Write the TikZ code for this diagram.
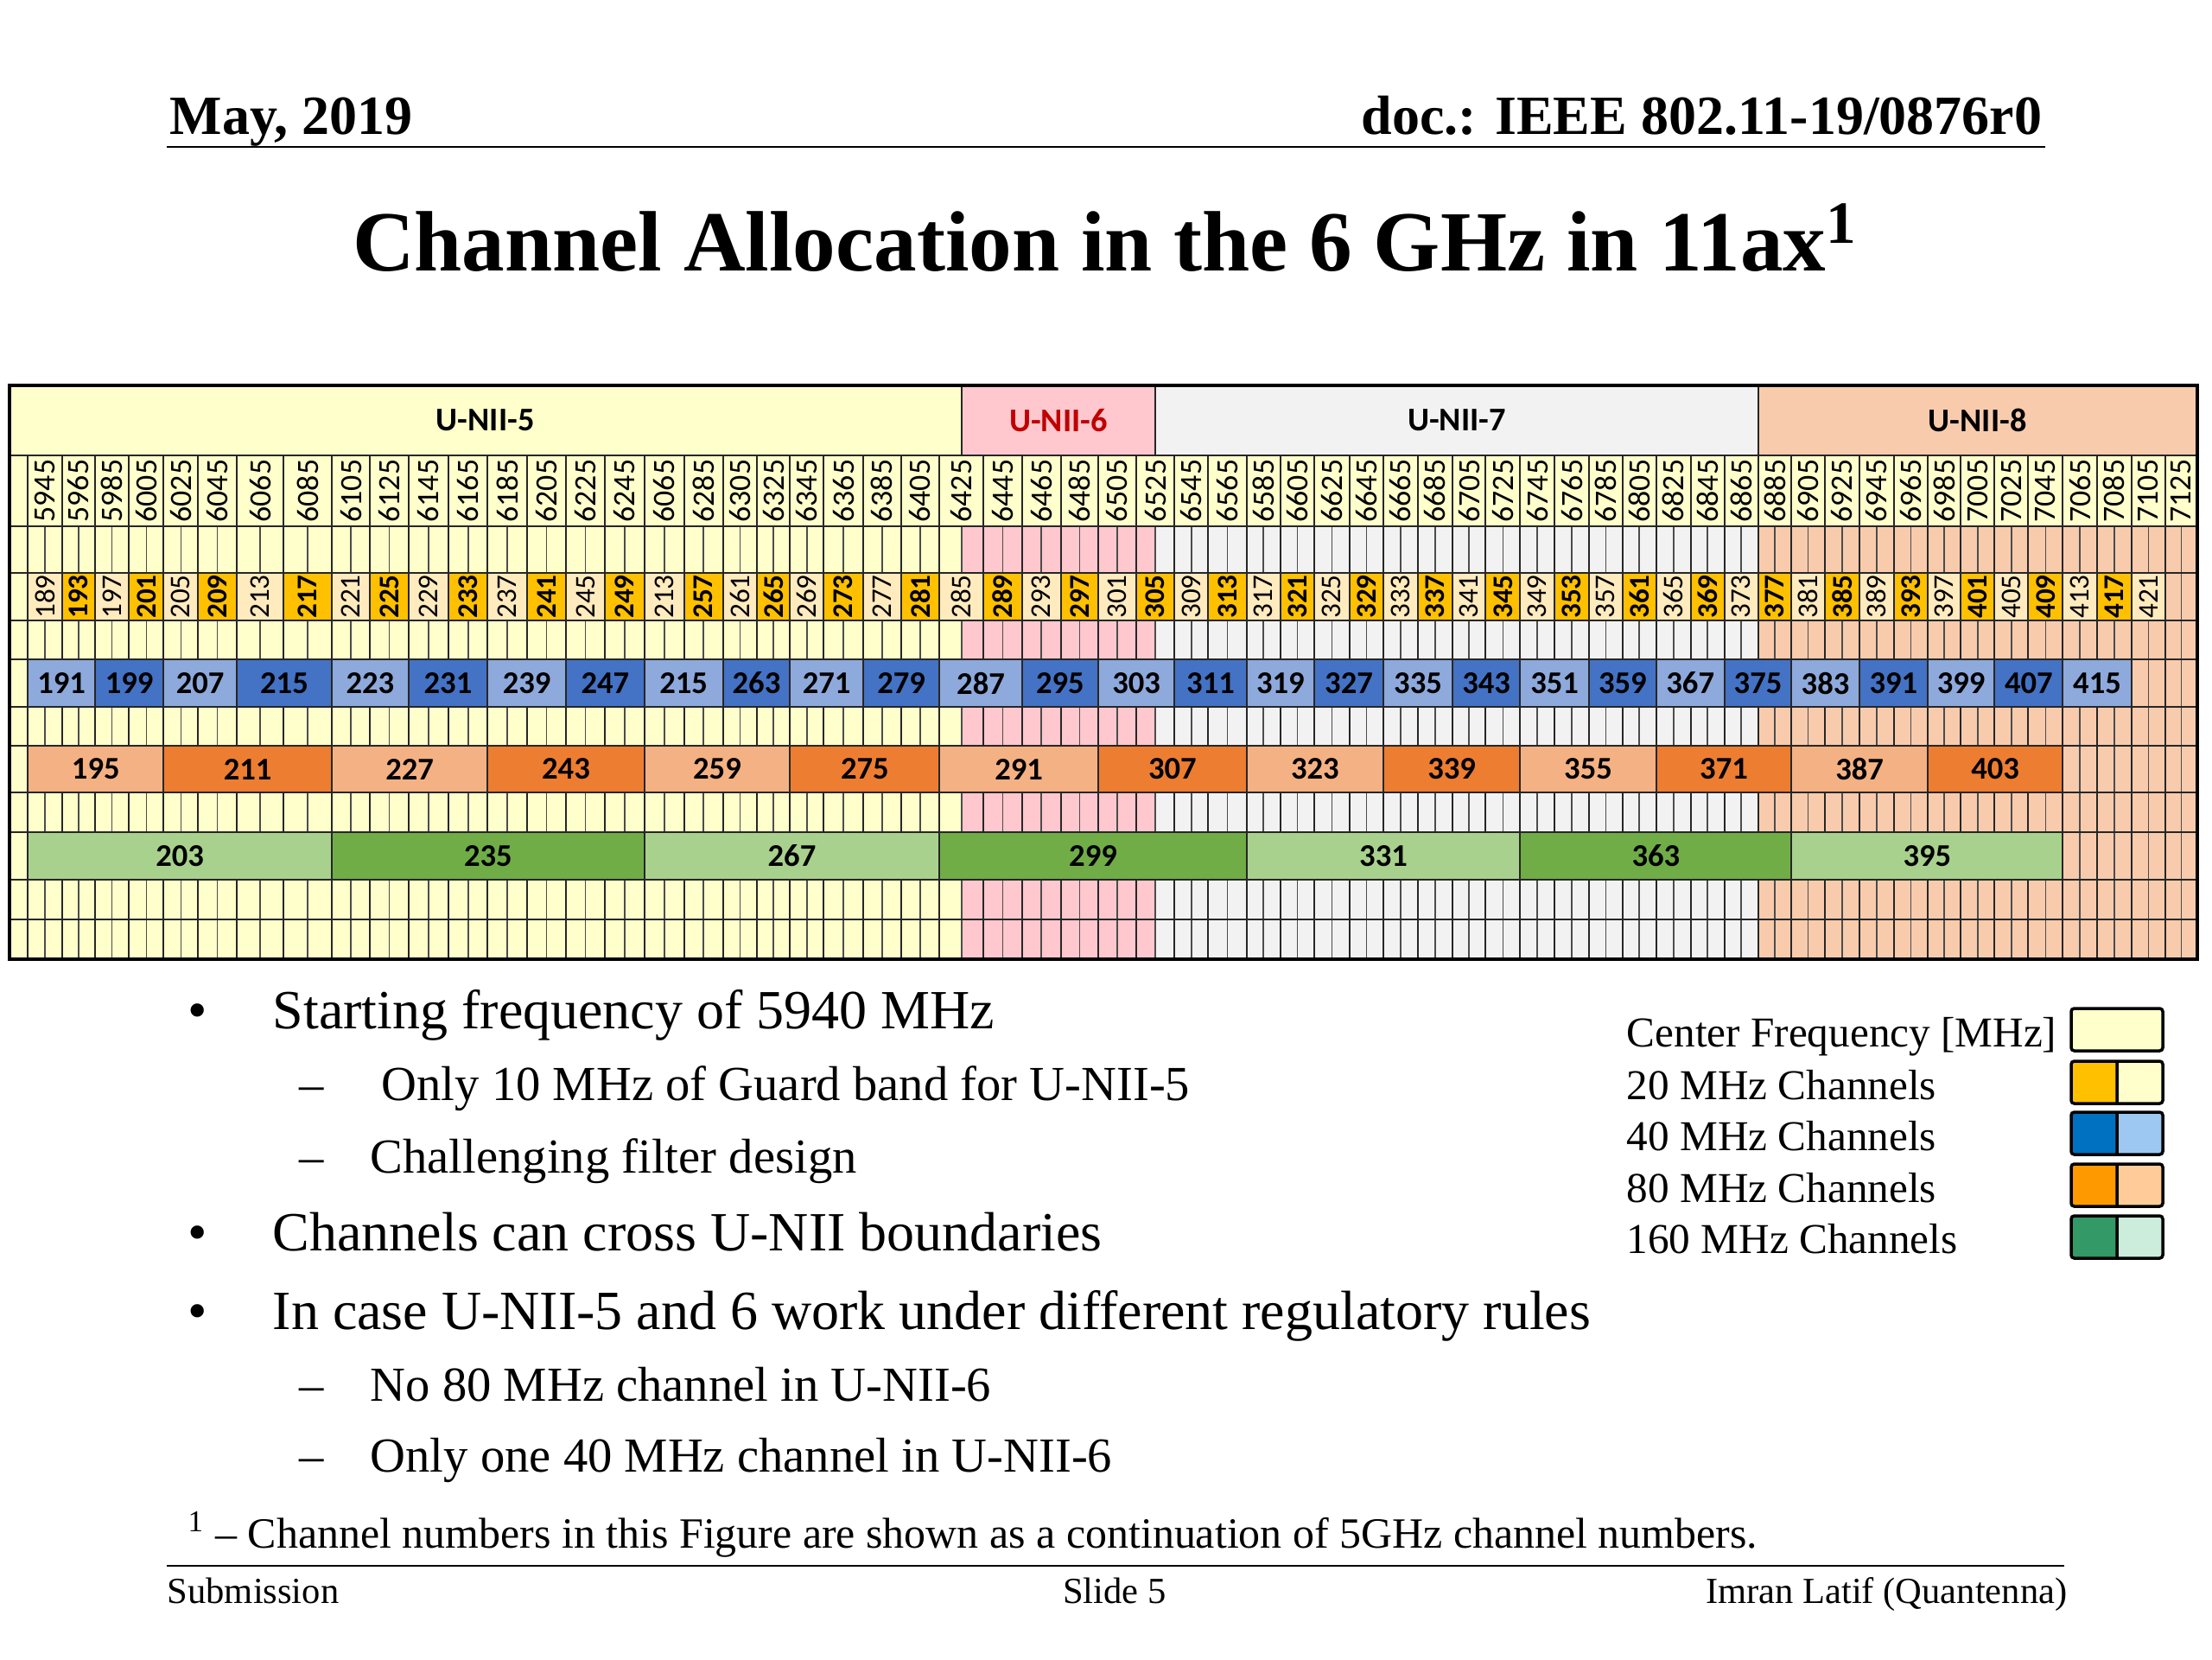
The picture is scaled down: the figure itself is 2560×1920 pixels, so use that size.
\documentclass[tikz,border=0pt]{standalone}
\usepackage{fontspec}
\setmainfont{Liberation Serif}
\newfontfamily\calibri{Carlito}
\usetikzlibrary{positioning}

\definecolor{unii5}{HTML}{FFFFCC}
\definecolor{unii6}{HTML}{FFC7CE}
\definecolor{unii7}{HTML}{F2F2F2}
\definecolor{unii8}{HTML}{F8CBAD}
\definecolor{ch20lo}{HTML}{FFEBBE}
\definecolor{ch20hi}{HTML}{FFC000}
\definecolor{ch40lo}{HTML}{8EA9DB}
\definecolor{ch40hi}{HTML}{4472C4}
\definecolor{ch80lo}{HTML}{F4B183}
\definecolor{ch80hi}{HTML}{ED7D31}
\definecolor{ch160lo}{HTML}{A9D18E}
\definecolor{ch160hi}{HTML}{70AD47}
\definecolor{key40}{HTML}{0070C0}
\definecolor{key40lt}{HTML}{9DC8F2}
\definecolor{key80}{HTML}{FF9900}
\definecolor{key80lt}{HTML}{FFCC99}
\definecolor{key160}{HTML}{339966}
\definecolor{key160lt}{HTML}{CCECDC}
\definecolor{darkred}{HTML}{C00000}

% column edges of the table, 5945 ... 7125 MHz
\def\edges{{32.3,71.7,110,149.3,189.3,229.3,274,328.3,384,428.3,472.7,519.3,564.3,610,655,700,745.7,791.7,836.7,876,914.3,953.3,999,1042.7,1087.3,1138.3,1182.7,1227.7,1271,1315,1359.3,1398.3,1442.7,1481.7,1521,1561.7,1601,1640.7,1681,1719.3,1759.3,1799,1839,1877.7,1916.7,1956.7,1995.7,2034.7,2073.3,2111.7,2151.7,2191.7,2231,2269.3,2308.3,2347.3,2387.3,2426.7,2466.7,2506,2542.7}}

\begin{document}
\begin{tikzpicture}[x=0.01cm,y=-0.01cm,
    gridline/.style={draw=black!70,line width=0.45pt},
    colline/.style={draw=black!85,line width=0.65pt},
    frame/.style={draw=black,line width=1.1pt},
    bandlabel/.style={font=\calibri\bfseries\fontsize{10.9}{12}\selectfont},
    freqlabel/.style={rotate=90,inner sep=0pt,font=\calibri\fontsize{10.2}{11}\selectfont},
    chlabel/.style={inner sep=0pt,font=\calibri\bfseries\fontsize{10.4}{11}\selectfont},
    keybox/.style={draw=black,line width=1pt,rounded corners=1pt}]
  \fill[white] (0,0) rectangle (2560,1920);
  \useasboundingbox (0,0) rectangle (2560,1920);

  % header and title
  \begin{scope}[every node/.style={inner sep=0pt,font=\bfseries\fontsize{18.2}{22}\selectfont}]
    \node[anchor=base west] (date) at (196,155) {May, 2019};
    \node[anchor=base east] (doc) at (2364,155) {doc.: IEEE 802.11-19/0876r0};
  \end{scope}
  \draw[line width=0.7pt] (193,170) -- (2367,170);
  \node[anchor=base,inner sep=0pt,font=\bfseries\fontsize{28.2}{32}\selectfont] (title) at (1279,313)
    {Channel Allocation in the 6 GHz in 11ax\textsuperscript{1}};

  % bands
  \fill[unii5] (10.7,446) rectangle (1112.8,1110);
  \fill[unii6] (1112.8,446) rectangle (1337.2,1110);
  \fill[unii7] (1337.2,446) rectangle (2034.7,1110);
  \fill[unii8] (2034.7,446) rectangle (2542.7,1110);
  \fill[unii5] (10.7,527) rectangle (2542.7,609);

  % grid
  \foreach \c in {0,...,59}{
    \pgfmathtruncatemacro\cn{\c+1}
    \pgfmathsetmacro\xa{\edges[\c]}
    \pgfmathsetmacro\xb{\edges[\cn]}
    \draw[gridline] ({(\xa+\xb)/2},609) -- ({(\xa+\xb)/2},1110);
    \draw[colline] (\xa,527) -- (\xa,1110);
    \pgfmathtruncatemacro\fq{5945+20*\c}
    \ifnum\c=16 \def\fq{6065}\fi
    \node[freqlabel] (f\c) at ({(\xa+\xb)/2},568) {\fq};
  }
  \foreach \y in {527,609,663,718,763,818,863,917,963,1018,1064}
    \draw[colline] (10.7,\y) -- (2542.7,\y);

  % 20 MHz channels
  \foreach \c in {0,...,58}{
    \pgfmathtruncatemacro\cn{\c+1}
    \pgfmathsetmacro\xa{\edges[\c]}
    \pgfmathsetmacro\xb{\edges[\cn]}
    \pgfmathtruncatemacro\ch{189+4*\c}
    \ifnum\c=16 \def\ch{213}\fi
    \ifodd\c\relax
      \draw[colline,fill=ch20hi] (\xa,663) rectangle (\xb,718);
      \node[freqlabel,font=\calibri\bfseries\fontsize{9.4}{10}\selectfont] (c20-\c) at ({(\xa+\xb)/2},690.5) {\ch};
    \else
      \draw[colline,fill=ch20lo] (\xa,663) rectangle (\xb,718);
      \node[freqlabel,font=\calibri\fontsize{9.4}{10}\selectfont] (c20-\c) at ({(\xa+\xb)/2},690.5) {\ch};
    \fi
  }

  % 40 MHz channels
  \foreach \k in {0,...,28}{
    \pgfmathtruncatemacro\ca{2*\k}
    \pgfmathtruncatemacro\cb{2*\k+2}
    \pgfmathsetmacro\xa{\edges[\ca]}
    \pgfmathsetmacro\xb{\edges[\cb]}
    \pgfmathtruncatemacro\ch{191+8*\k}
    \ifnum\k=8 \def\ch{215}\fi
    \ifodd\k\relax \def\shade{ch40hi}\else \def\shade{ch40lo}\fi
    \draw[colline,fill=\shade] (\xa,763) rectangle (\xb,818);
    \node[chlabel] (c40-\k) at ({(\xa+\xb)/2},790.5) {\ch};
  }

  % 80 MHz channels
  \foreach \k in {0,...,13}{
    \pgfmathtruncatemacro\ca{4*\k}
    \pgfmathtruncatemacro\cb{4*\k+4}
    \pgfmathsetmacro\xa{\edges[\ca]}
    \pgfmathsetmacro\xb{\edges[\cb]}
    \pgfmathtruncatemacro\ch{195+16*\k}
    \ifodd\k\relax \def\shade{ch80hi}\else \def\shade{ch80lo}\fi
    \draw[colline,fill=\shade] (\xa,863) rectangle (\xb,917);
    \node[chlabel] (c80-\k) at ({(\xa+\xb)/2},890) {\ch};
  }

  % 160 MHz channels
  \foreach \k in {0,...,6}{
    \pgfmathtruncatemacro\ca{8*\k}
    \pgfmathtruncatemacro\cb{8*\k+8}
    \pgfmathsetmacro\xa{\edges[\ca]}
    \pgfmathsetmacro\xb{\edges[\cb]}
    \pgfmathtruncatemacro\ch{203+32*\k}
    \ifodd\k\relax \def\shade{ch160hi}\else \def\shade{ch160lo}\fi
    \draw[colline,fill=\shade] (\xa,963) rectangle (\xb,1018);
    \node[chlabel] (c160-\k) at ({(\xa+\xb)/2},990.5) {\ch};
  }

  % band header
  \draw[colline] (1112.8,446) -- (1112.8,527);
  \draw[colline] (1337.2,446) -- (1337.2,527);
  \draw[colline] (2034.7,446) -- (2034.7,527);
  \draw[colline] (10.7,446) -- (10.7,1110);
  \draw[frame] (10.7,446) rectangle (2542.7,1110);
  \node[bandlabel] (u5) at (561.7,486.5) {U-NII-5};
  \node[bandlabel,text=darkred] (u6) at (1225,486.5) {U-NII-6};
  \node[bandlabel] (u7) at (1686,486.5) {U-NII-7};
  \node[bandlabel] (u8) at (2288.7,486.5) {U-NII-8};

  % bullets
  \begin{scope}[every node/.style={anchor=base west,inner sep=0pt,font=\fontsize{18.2}{22}\selectfont}]
    \node (p1) at (315,1190) {Starting frequency of 5940 MHz};
    \node (p2) at (315,1447) {Channels can cross U-NII boundaries};
    \node (p3) at (315,1538) {In case U-NII-5 and 6 work under different regulatory rules};
    \node[anchor=base] (d1) at (229,1190) {•};
    \node[anchor=base] (d2) at (229,1447) {•};
    \node[anchor=base] (d3) at (229,1538) {•};
  \end{scope}
  \begin{scope}[every node/.style={anchor=base west,inner sep=0pt,font=\fontsize{16.1}{20}\selectfont}]
    \node (s1) at (441,1273) {Only 10 MHz of Guard band for U-NII-5};
    \node (s2) at (428,1357) {Challenging filter design};
    \node (s3) at (428,1621) {No 80 MHz channel in U-NII-6};
    \node (s4) at (428,1703) {Only one 40 MHz channel in U-NII-6};
    \node[anchor=base] (e1) at (361,1273) {–};
    \node[anchor=base] (e2) at (361,1357) {–};
    \node[anchor=base] (e3) at (361,1621) {–};
    \node[anchor=base] (e4) at (361,1703) {–};
  \end{scope}

  % legend
  \begin{scope}[every node/.style={anchor=base west,inner sep=0pt,font=\fontsize{14}{17}\selectfont}]
    \node (k0) at (1882,1211) {Center Frequency [MHz]};
    \node (k1) at (1882,1272) {20 MHz Channels};
    \node (k2) at (1882,1331) {40 MHz Channels};
    \node (k3) at (1882,1391) {80 MHz Channels};
    \node (k4) at (1882,1450) {160 MHz Channels};
  \end{scope}
  \draw[keybox,fill=unii5] (2397,1167) rectangle (2503,1216);
  \fill[ch20hi] (2397,1228) rectangle (2450,1277);
  \fill[unii5] (2450,1228) rectangle (2503,1277);
  \draw[keybox] (2397,1228) rectangle (2503,1277) (2450,1228) -- (2450,1277);
  \fill[key40] (2397,1287) rectangle (2450,1336);
  \fill[key40lt] (2450,1287) rectangle (2503,1336);
  \draw[keybox] (2397,1287) rectangle (2503,1336) (2450,1287) -- (2450,1336);
  \fill[key80] (2397,1347) rectangle (2450,1396);
  \fill[key80lt] (2450,1347) rectangle (2503,1396);
  \draw[keybox] (2397,1347) rectangle (2503,1396) (2450,1347) -- (2450,1396);
  \fill[key160] (2397,1407) rectangle (2450,1456);
  \fill[key160lt] (2450,1407) rectangle (2503,1456);
  \draw[keybox] (2397,1407) rectangle (2503,1456) (2450,1407) -- (2450,1456);

  % footnote and footer
  \node[anchor=base west,inner sep=0pt,font=\fontsize{14.2}{17}\selectfont] (note) at (217,1791)
    {\textsuperscript{1} – Channel numbers in this Figure are shown as a continuation of 5GHz channel numbers.};
  \draw[line width=0.7pt] (193,1812) -- (2389,1812);
  \begin{scope}[every node/.style={inner sep=0pt,font=\fontsize{12.1}{15}\selectfont}]
    \node[anchor=base west] (sub) at (193,1855) {Submission};
    \node[anchor=base] (slide) at (1290,1855) {Slide 5};
    \node[anchor=base east] (author) at (2393,1855) {Imran Latif (Quantenna)};
  \end{scope}
\end{tikzpicture}
\end{document}
